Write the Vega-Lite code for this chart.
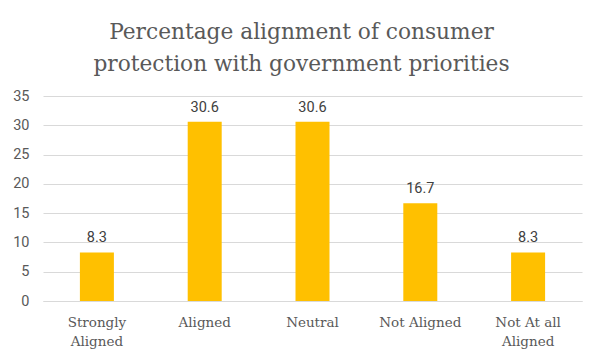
{
  "$schema": "https://vega.github.io/schema/vega-lite/v6.json",
  "width": 539,
  "height": 205,
  "autosize": {"type": "none"},
  "padding": {"left": 43, "top": 96, "right": 20, "bottom": 62},
  "background": "white",
  "title": {
    "text": ["Percentage alignment of consumer", "protection with government priorities"],
    "font": "DejaVu Serif",
    "fontSize": 21.7,
    "fontWeight": "normal",
    "color": "#595959",
    "lineHeight": 32,
    "anchor": "middle",
    "dx": -11,
    "offset": 12
  },
  "data": {
    "values": [
      {"category": "Strongly Aligned", "value": 8.3},
      {"category": "Aligned", "value": 30.6},
      {"category": "Neutral", "value": 30.6},
      {"category": "Not Aligned", "value": 16.7},
      {"category": "Not At all Aligned", "value": 8.3}
    ]
  },
  "encoding": {
    "x": {
      "field": "category",
      "type": "nominal",
      "sort": null,
      "scale": {"paddingInner": 0, "paddingOuter": 0},
      "axis": {
        "title": null,
        "labelAngle": 0,
        "labelFont": "DejaVu Serif",
        "labelFontSize": 13.5,
        "labelColor": "#595959",
        "labelPadding": 14,
        "labelLineHeight": 19,
        "labelExpr": "datum.value == 'Strongly Aligned' ? ['Strongly', 'Aligned'] : datum.value == 'Not At all Aligned' ? ['Not At all', 'Aligned'] : datum.value",
        "ticks": false,
        "domainColor": "#d9d9d9",
        "grid": false
      }
    },
    "y": {
      "field": "value",
      "type": "quantitative",
      "scale": {"domain": [0, 35], "nice": false},
      "axis": {
        "title": null,
        "values": [0, 5, 10, 15, 20, 25, 30, 35],
        "labelFont": "Roboto",
        "labelFontSize": 14.5,
        "labelColor": "#595959",
        "labelPadding": 14,
        "ticks": false,
        "domain": false,
        "gridColor": "#d9d9d9"
      }
    }
  },
  "layer": [
    {"mark": {"type": "bar", "color": "#FFC000", "size": 34}},
    {
      "mark": {"type": "text", "font": "Roboto", "fontSize": 14.5, "color": "#404040", "baseline": "alphabetic", "dy": -10},
      "encoding": {"text": {"field": "value", "type": "quantitative", "format": ".1f"}}
    }
  ],
  "config": {"view": {"stroke": null}}
}
